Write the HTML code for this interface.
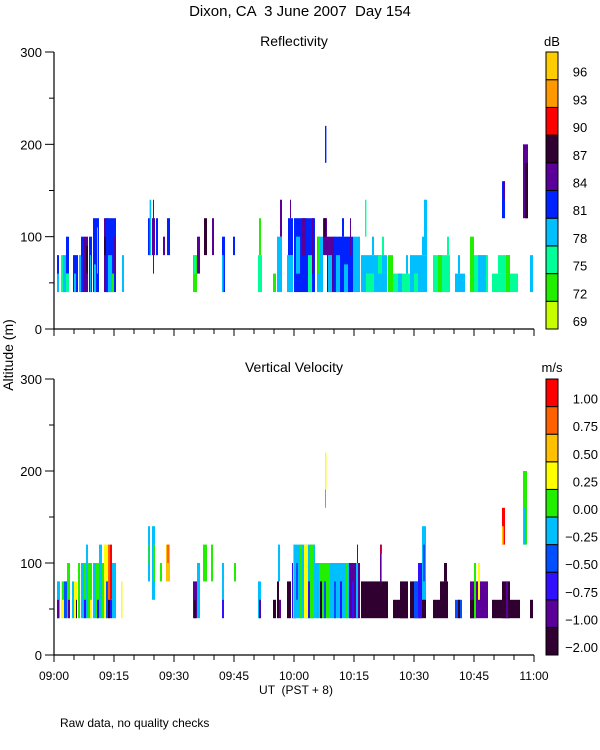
<!DOCTYPE html>
<html><head><meta charset="utf-8">
<style>
body{margin:0;background:#fff;}
svg{display:block;font-family:"Liberation Sans",sans-serif;}
text{fill:#000;}
</style></head>
<body>
<svg id="chart" width="600" height="750" viewBox="0 0 600 750" xmlns="http://www.w3.org/2000/svg">
<text x="300" y="16" font-size="15" text-anchor="middle" xml:space="preserve">Dixon, CA  3 June 2007  Day 154</text>
<text x="294" y="46" font-size="14" text-anchor="middle">Reflectivity</text>
<text x="294" y="372" font-size="14" text-anchor="middle">Vertical Velocity</text>
<text x="552" y="46" font-size="13" text-anchor="middle">dB</text>
<text x="552" y="372" font-size="13" text-anchor="middle">m/s</text>
<text x="0" y="0" font-size="14" text-anchor="middle" transform="translate(13,355) rotate(-90)">Altitude (m)</text>
<text x="296" y="694" font-size="12" text-anchor="middle" xml:space="preserve">UT  (PST + 8)</text>
<text x="60" y="727" font-size="12">Raw data, no quality checks</text>
<g id="layer"></g>
</svg>
<script>
// Reflectivity classes (dB) and velocity classes (m/s)
const reflLabels = ["69","72","75","78","81","84","87","90","93","96"];
const velLabels = ["-2.00","-1.00","-0.75","-0.50","-0.25","0.00","0.25","0.50","0.75","1.00"];
const reflColors = ["#c8ff00","#22ee00","#00ff99","#00bfff","#0022ff","#5a0099","#300030","#ff0000","#ff9900","#ffcc00"];
const velColors = ["#300030","#5a0099","#3010ff","#0050ff","#00bfff","#22ee00","#ffff00","#ffc000","#ff6000","#ff0000"];
const xTickLabels = ["09:00","09:15","09:30","09:45","10:00","10:15","10:30","10:45","11:00"];
const yTickLabels = [0,100,200,300];
// Reflectivity segments: [startMin, endMin, lowAlt, highAlt, classIdx]
const reflSegments = [
[0.75,1.25,40,80,4],[0.75,1.25,40,60,3],[1.75,2.5,40,80,2],[2.25,3,40,80,3],[3,3.75,60,100,4],[3,3.75,40,60,2],
[4.75,6,40,80,4],[5,5.5,40,60,3],[6.25,6.75,40,80,3],[6.75,7.5,40,100,4],[7.5,8.5,40,100,5],[8,8.5,60,90,6],
[8.75,9.5,40,100,4],[9,9.25,40,80,3],[9.75,11.25,40,120,4],[10,10.5,40,70,3],[10.75,11,60,110,2],
[12.5,13.5,40,120,5],[12.5,13,80,100,6],[13,15.5,40,120,4],[13.5,14.5,40,80,3],[14.5,15,40,60,1],[15,15.5,60,100,5],
[17,17.5,40,80,3],[23.5,24,80,120,4],[23.9,24.3,80,140,3],[24.5,25.25,80,120,5],[24.75,25,60,140,5],[25.5,26,80,120,4],
[27.25,27.75,80,100,5],[28.25,29,80,120,4],[34.75,35.75,40,80,1],[35,35.5,60,80,2],[35.75,36.5,60,100,5],
[37.5,38.25,80,120,6],[39.5,40,80,120,5],[42,42.75,40,100,4],[42,42.4,40,80,3],[44.75,45.25,80,100,4],
[51,52,40,80,2],[51.25,51.75,80,120,1],[54.75,55.5,40,60,1],[55.75,57,40,100,3],[56.5,57,100,140,5],
[58.25,59.75,40,80,3],[58.5,59.75,80,120,4],[59,59.25,120,140,5],
[60,65.25,40,120,4],[60.5,61.5,60,100,3],[62,63,80,120,5],[63.5,64.5,40,80,2],[64.5,65,60,120,5],
[65.75,67.25,40,100,3],[66,66.5,60,100,1],[67.25,68.25,80,120,5],[67.5,68,100,120,6],[67.75,68.1,180,220,4],
[68.25,70.25,40,100,5],[68.5,69.5,40,80,3],[70,74.75,40,100,4],[70.5,71.5,40,80,3],[72.5,73.5,40,70,3],[72,72.5,100,120,4],[74,74.25,80,120,5],
[74.75,76.5,40,100,3],[76.75,83.25,40,80,3],[78,80,40,60,2],[81,82,60,80,2],[79.5,80,80,100,3],[82,82.5,80,100,2],[77.75,78.1,100,140,2],
[83.5,84.75,40,80,1],[84.75,89.75,40,60,2],[86,87,40,60,3],[88,88.5,60,80,3],
[89,93.25,40,80,3],[90,91,40,60,2],[92,92.5,80,100,3],[92.5,93.25,80,140,3],
[94.75,99,40,80,2],[96,97,40,80,1],[98.25,98.75,80,100,2],[100.25,102.75,40,60,3],[101,101.5,60,80,3],
[104,108.5,40,80,2],[104,105,40,100,1],[106,108,40,80,3],[109.5,116,40,60,2],[111,114,60,80,2],[113,114,40,80,1],
[112,112.75,120,160,4],[112.25,112.75,140,160,5],[117.25,118.5,120,200,5],[117.75,118.5,120,180,6],[119,119.75,40,80,3]
];
// Velocity segments: [startMin, endMin, lowAlt, highAlt, classIdx]
const velSegments = [
[0.75,1.5,40,80,4],[0.75,1.25,40,60,1],[1.75,2.5,40,80,6],[2,2.5,60,80,5],[2.5,3.25,40,80,3],[3.25,4,40,100,5],[3.5,4,40,60,1],
[4.5,5,40,80,4],[5,5.75,40,80,6],[5.5,5.75,40,60,0],[6,6.5,40,100,5],[6.75,7.5,40,100,4],[7.5,8,40,100,5],[7.5,8,40,60,2],
[8,8.5,40,120,4],[8.5,9.5,40,100,5],[9,9.5,40,60,6],[9.75,10.5,40,100,4],[10.5,11.25,40,100,5],[10.75,11.25,40,60,2],
[11.25,12,40,120,4],[12,12.5,40,100,5],[12.5,13.5,40,120,6],[13,13.5,40,80,3],[13.5,14,40,120,8],[13.5,14,40,60,0],
[14,14.5,60,120,9],[14,14.5,40,60,2],[14.5,15.5,40,100,4],[16.75,17.1,40,80,6],
[23.5,24,80,140,4],[23.6,23.9,100,120,5],[24.5,25.25,60,140,4],[24.75,25.25,80,120,5],[26.5,27,80,100,5],
[28,29,80,120,7],[28.25,28.75,100,120,8],[34.75,35.75,40,80,1],[35,35.5,40,60,0],[35.75,36.5,40,100,4],
[37.25,38.25,80,120,5],[39.25,39.75,80,120,5],[42,42.5,40,80,2],[42,42.5,60,100,4],[45,45.5,80,100,5],
[51,51.75,40,80,4],[51.25,51.75,40,60,1],[54.75,55.5,40,60,0],[55.75,56.25,40,80,0],[56,56.5,80,120,4],[56.25,56.75,40,60,1],
[58.25,59.25,40,80,0],[59.5,60.5,40,100,2],[59.75,60.25,40,120,7],
[60,65.25,40,120,4],[60.5,61,60,100,3],[61.5,62,40,120,5],[62.5,63.5,40,120,6],[63.5,64,40,80,2],[64,65,40,120,5],
[65.25,66.25,40,100,4],[65.75,66,40,80,8],[66.25,69,40,100,5],[66.5,67,40,80,0],[67.5,68,40,80,3],
[67.75,68.1,180,220,6],[67.75,68,160,180,5],
[69,74,40,100,4],[70,70.5,40,80,3],[71.5,72,40,80,2],[73,73.5,40,100,5],
[73.75,76.5,40,100,1],[74.5,75,40,80,2],[75.5,76,40,100,4],[75.75,76,100,120,1],
[76.75,83.5,40,80,0],[81.5,81.9,80,120,1],[81.6,82,110,120,9],
[84.75,88.5,40,60,0],[86.5,88.5,40,80,0],[89,93,40,80,0],[90,91,40,80,3],[91,92,40,100,2],[92,93,60,140,4],[92.25,92.75,80,120,3],
[94.75,96.5,40,60,0],[96.5,98.5,40,80,0],[97.5,98.25,80,100,0],[100.25,102,40,60,3],[101,101.5,40,60,0],
[104,108.5,40,80,1],[104,105,40,60,0],[105,105.5,40,100,5],[106,106.5,60,100,6],
[109.5,116.5,40,60,0],[112,114,40,80,0],[113,113.5,40,80,1],[112,112.75,120,160,9],[112,112.4,120,140,7],
[117.25,118.25,120,200,5],[117.5,118,120,160,4],[119,119.75,40,60,0]
];

const NS = "http://www.w3.org/2000/svg";
const layer = document.getElementById('layer');
const X0 = 54, X1 = 534, TMAX = 120;
function xScale(m){ return X0 + (m / TMAX) * (X1 - X0); }
function mk(tag, attrs){ const e = document.createElementNS(NS, tag); for (const k in attrs) e.setAttribute(k, attrs[k]); return e; }

const panels = [
  {name:'reflectivity', top:52, bottom:329, segs:reflSegments, colors:reflColors, labels:reflLabels},
  {name:'velocity', top:379, bottom:655, segs:velSegments, colors:velColors, labels:velLabels}
];

panels.forEach(p => {
  const yScale = a => p.bottom - (a / 300) * (p.bottom - p.top);
  const g = mk('g', {});
  
  
  layer.appendChild(g);
  // data marks
  p.segs.forEach(s => {
    const x = xScale(s[0]), w = Math.max(1, xScale(s[1]) - x);
    const y = yScale(s[3]), h = yScale(s[2]) - y;
    const r = mk('rect', {x:x, y:y, width:w, height:h, fill:p.colors[s[4]]});
    
    
    g.appendChild(r);
  });
  // axes
  const ax = mk('path', {d:`M${X0},${p.top}V${p.bottom}H${X1}`, stroke:'#000', fill:'none', 'stroke-width':1.2});
  
  
  g.appendChild(ax);
  // y ticks
  for (let a = 0; a <= 300; a += 50) {
    const y = yScale(a), major = a % 100 === 0;
    g.appendChild(mk('line', {x1:X0 - (major ? 9 : 5), x2:X0, y1:y, y2:y, stroke:'#000'}));
  }
  yTickLabels.forEach(v => {
    const t = mk('text', {x:X0 - 12, y:yScale(v) + 5, 'font-size':13, 'text-anchor':'end'});
    t.textContent = v;
    
    
    g.appendChild(t);
  });
  // x ticks
  for (let m = 0; m <= TMAX; m += 5) {
    const x = xScale(m);
    g.appendChild(mk('line', {x1:x, x2:x, y1:p.bottom, y2:p.bottom + (m % 15 === 0 ? 7 : 5), stroke:'#000'}));
  }
  // colorbar
  const cbTop = p.top, cbBot = p.bottom, n = p.colors.length, segH = (cbBot - cbTop) / n;
  for (let i = 0; i < n; i++) {
    const y = cbBot - (i + 1) * segH;
    const r = mk('rect', {x:546, y:y, width:12, height:segH, fill:p.colors[i], stroke:'#000', 'stroke-width':1});
    
    
    g.appendChild(r);
    const t = mk('text', {x:p.name === 'velocity' ? 598 : 580, y:cbBot - i * segH - 3, 'font-size':13, 'text-anchor':p.name === 'velocity' ? 'end' : 'middle'});
    t.textContent = p.labels[i].replace('-', '\u2212');
    
    
    g.appendChild(t);
  }
});
// x tick labels under bottom panel
xTickLabels.forEach((lab, i) => {
  const t = mk('text', {x:xScale(i * 15), y:680, 'font-size':12, 'text-anchor':'middle'});
  t.textContent = lab;
  
  
  layer.appendChild(t);
});
</script>
</body></html>
